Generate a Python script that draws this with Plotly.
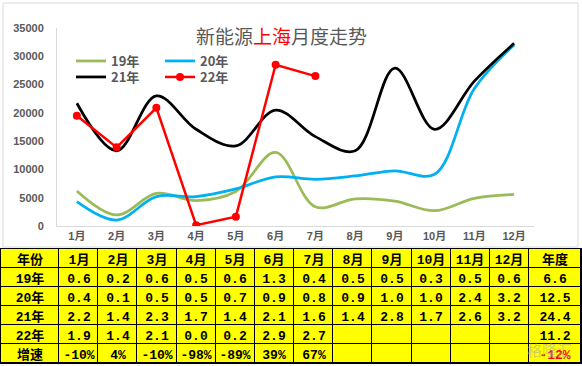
import plotly.graph_objects as go

W, H = 582, 366

months = ['1月', '2月', '3月', '4月', '5月', '6月', '7月', '8月', '9月', '10月', '11月', '12月']

# chart values (vehicles)
v19 = [6200, 1950, 5750, 4500, 6100, 13000, 3400, 4800, 4400, 2700, 4900, 5600]
v20 = [4300, 1050, 5200, 5200, 6550, 8700, 8250, 8850, 9750, 9150, 24300, 32000]
v21 = [21700, 13300, 23000, 17100, 14150, 20500, 15800, 13300, 27900, 17100, 25600, 32300]
v22 = [19500, 13900, 20900, 150, 1650, 28500, 26500]

# table values (10k vehicles)
t19 = [0.6, 0.2, 0.6, 0.5, 0.6, 1.3, 0.4, 0.5, 0.5, 0.3, 0.5, 0.6]
t20 = [0.4, 0.1, 0.5, 0.5, 0.7, 0.9, 0.8, 0.9, 1.0, 1.0, 2.4, 3.2]
t21 = [2.2, 1.4, 2.3, 1.7, 1.4, 2.1, 1.6, 1.4, 2.8, 1.7, 2.6, 3.2]
t22 = [1.9, 1.4, 2.1, 0.0, 0.2, 2.9, 2.7]
growth = ['-10%', '4%', '-10%', '-98%', '-89%', '39%', '67%']
annual = [6.6, 12.5, 24.4, 11.2]
annual_growth = '-12%'
row_labels = ['19年', '20年', '21年', '22年', '增速']
header = ['年份'] + months + ['年度']

GRAY = '#595959'
fig = go.Figure()

fig.add_trace(go.Scatter(x=months, y=v19, name='19年', mode='lines',
                         line=dict(color='#9BBB59', width=2.75, shape='spline', smoothing=1),
                         legend='legend'))
fig.add_trace(go.Scatter(x=months, y=v20, name='20年', mode='lines',
                         line=dict(color='#00B0F0', width=2.75, shape='spline', smoothing=1),
                         legend='legend'))
fig.add_trace(go.Scatter(x=months, y=v21, name='21年', mode='lines',
                         line=dict(color='#000000', width=2.75, shape='spline', smoothing=1),
                         legend='legend2'))
fig.add_trace(go.Scatter(x=months[:len(v22)], y=v22, name='22年', mode='lines+markers',
                         line=dict(color='#FF0000', width=2.5),
                         marker=dict(color='#FF0000', size=8),
                         legend='legend2'))

# ---- table drawn as a heatmap grid (units of x2/y2 = pixels) ----
def fmt(v):
    return '%.1f' % v

rows = [header]
for name, vals in zip(row_labels[:4], [t19, t20, t21, t22]):
    rows.append([name] + [fmt(vals[i]) if i < len(vals) else '' for i in range(12)]
                + [fmt(annual[row_labels.index(name)])])
rows.append([row_labels[4]] + [growth[i] if i < len(growth) else '' for i in range(12)]
            + ["<span style='color:#FF0000'>%s</span>" % annual_growth])
text = [['<b>%s</b>' % c if c else '' for c in r] for r in rows]

col_w = [58] + [470 / 12] * 12 + [52]
xe = [0]
for w_ in col_w:
    xe.append(xe[-1] + w_)
ye = [249 + 19 * i for i in range(len(rows) + 1)]
z = [[0] * len(col_w) for _ in rows]

fig.add_trace(go.Heatmap(
    x=xe, y=ye, z=z, text=text, texttemplate='%{text}',
    textfont=dict(family='Liberation Mono, Noto Sans CJK SC, monospace', size=13, color='black'),
    colorscale=[[0, '#FFFF00'], [1, '#FFFF00']], zmin=0, zmax=1, showscale=False,
    xgap=1, ygap=1, hoverinfo='skip', xaxis='x2', yaxis='y2', showlegend=False))

LEGFONT = dict(family='Noto Sans CJK SC', size=13, color=GRAY, weight='bold')
fig.update_layout(
    width=W, height=H,
    margin=dict(l=0, r=0, t=0, b=0, autoexpand=False),
    paper_bgcolor='white', plot_bgcolor='white',
    font=dict(family='Liberation Sans, Noto Sans CJK SC', color=GRAY),
    xaxis=dict(type='category', domain=[57 / W, 534 / W], range=[-0.5, 11.5],
               showline=True, linecolor='#D9D9D9', linewidth=1, showgrid=False, ticks='',
               tickfont=dict(size=11, color=GRAY, weight='bold'), fixedrange=True,
               automargin=False, anchor='y'),
    yaxis=dict(domain=[(H - 226) / H, (H - 28) / H], range=[0, 35000], dtick=5000,
               tickformat='d', showline=True, linecolor='#D9D9D9', linewidth=1,
               showgrid=False, ticks='', tickfont=dict(size=11, color=GRAY, weight='bold'),
               ticklabelstandoff=10, zeroline=False, fixedrange=True, automargin=False,
               anchor='x'),
    xaxis2=dict(domain=[0, 1], range=[-1, 581], visible=False, fixedrange=True, anchor='y2'),
    yaxis2=dict(domain=[0, (H - 247) / H], range=[H, 247], visible=False, fixedrange=True,
                anchor='x2'),
    legend=dict(x=71 / W, y=(H - 46) / H, xanchor='left', yanchor='top',
                orientation='h', entrywidth=44, bgcolor='rgba(0,0,0,0)', font=LEGFONT),
    legend2=dict(x=71 / W, y=(H - 62) / H, xanchor='left', yanchor='top',
                 orientation='h', entrywidth=44, bgcolor='rgba(0,0,0,0)', font=LEGFONT),
    showlegend=True,
    hovermode=False,
    shapes=[dict(type='rect', xref='paper', yref='paper', x0=3 / W, x1=578 / W,
                 y0=(H - 247) / H, y1=(H - 3) / H, line=dict(color='#D9D9D9', width=1)),
            dict(type='rect', xref='x2', yref='y2', x0=-1, x1=581, y0=248, y1=364,
                 fillcolor='black', line=dict(width=0), layer='below')],
    annotations=[dict(text="新能源<span style='color:#FF0000'>上海</span>月度走势",
                      x=281 / W, y=(H - 35) / H, xref='paper', yref='paper',
                      xanchor='center', yanchor='middle', showarrow=False,
                      font=dict(family='Noto Sans CJK SC', size=19, color=GRAY)),
                 dict(text='格隆汇', x=549 / W, y=(H - 349) / H, xref='paper', yref='paper',
                      xanchor='center', yanchor='middle', showarrow=False,
                      font=dict(family='Noto Sans CJK SC', size=15, color='rgba(170,170,170,0.55)'))],
)

fig.write_html('out.html', config={'displayModeBar': False},
               post_script="document.body.style.margin='0';")
